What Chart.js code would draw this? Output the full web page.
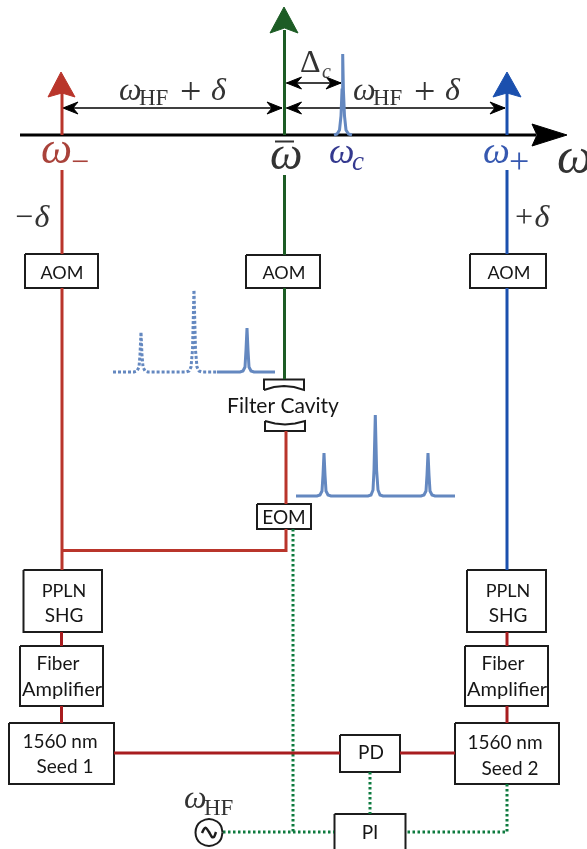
<!DOCTYPE html>
<html>
<head>
<meta charset="utf-8">
<style>
  html, body { margin: 0; padding: 0; background: #fff; }
  canvas { display: block; }
</style>
<script src="https://cdn.jsdelivr.net/npm/chart.js@4/dist/chart.umd.js"></script>
</head>
<body>
<canvas id="c" width="587" height="849"></canvas>
<script>
// beam lines, as x / y lists in picture units
const axisX = [20, 536], axisY = [135, 135];
const axisHeadX = [532, 567, 532, 537, 532], axisHeadY = [124, 135, 146, 135, 124];

const redUpX = [62, 62], redUpY = [135, 92];
const redHeadX = [48, 61, 75, 62, 48], redHeadY = [97, 72, 97, 93, 97];
const greenUpX = [284.5, 284.5], greenUpY = [135, 30];
const greenHeadX = [270, 284, 298, 284.5, 270], greenHeadY = [33, 7, 33, 28, 33];
const blueUpX = [507, 507], blueUpY = [135, 92];
const blueHeadX = [493, 507, 521, 507, 493], blueHeadY = [97, 72, 97, 93, 97];

const redDownX = [62, 62], redDownY = [170, 254];
const redMidX = [62, 62], redMidY = [288, 570];
const redBranchX = [62, 286, 286], redBranchY = [550.5, 550.5, 529];
const redCavX = [286, 286], redCavY = [431, 504];
const greenDownX = [284.5, 284.5], greenDownY = [175, 255];
const greenMidX = [284.5, 284.5], greenMidY = [288, 379];
const blueDownX = [507, 507], blueDownY = [170, 254];
const blueMidX = [507, 507], blueMidY = [288, 570];

const fibreSegsX = [[61.5, 61.5], [61.5, 61.5], [507, 507], [507, 507], [114, 340], [400, 455]];
const fibreSegsY = [[632, 646], [706, 723], [632, 646], [706, 723], [753, 753], [753, 753]];

const lockSegsX = [[293, 293], [370, 370], [507, 507, 405], [223, 334]];
const lockSegsY = [[529, 832], [772, 814], [784, 832, 832], [832, 832]];

// double arrows
const spanY = [108, 108, 83];
const spanStart = [63, 286.5, 286.5];
const spanEnd = [282, 505, 341];

// spectra
const cavPeakX = [334, 337, 339.5, 341, 342, 342.7, 343.4, 344.5, 346, 348.5, 352];
const cavPeakY = [135, 134, 130, 116, 90, 54, 90, 116, 130, 134, 135];

const dotSpecAX = [113, 134, 137, 139, 140, 141, 142, 143, 145, 148, 186, 189, 191, 192.5, 194, 195.5, 197, 199, 202, 217];
const dotSpecAY = [372, 372, 371, 367, 355, 332, 355, 367, 371, 372, 372, 371, 367, 350, 290, 350, 367, 371, 372, 372];
const solidSpecAX = [217, 240, 243, 245, 246, 247, 248, 249, 251, 254, 275];
const solidSpecAY = [372, 372, 371, 367, 350, 328, 350, 367, 371, 372, 372];
const specBX = [296, 317, 320, 322, 323, 324, 325, 326, 328, 331, 368, 371, 373, 374, 375.3, 376.6, 378, 380, 383, 421, 424, 426, 427, 428, 429, 430, 432, 435, 455];
const specBY = [496, 496, 495, 491, 475, 453, 475, 491, 495, 496, 496, 495, 490, 470, 415, 470, 490, 495, 496, 496, 495, 491, 475, 453, 475, 491, 495, 496, 496];

// filter cavity mirrors
const mirrorTopX = [264, 264, 304, 304, 294, 284, 274, 264];
const mirrorTopY = [390, 379.5, 379.5, 390, 387, 386, 387, 390];
const mirrorBotX = [265, 265, 305, 305, 295, 285, 275, 265];
const mirrorBotY = [421, 431, 431, 421, 423.5, 424.5, 423.5, 421];

// oscillator symbol
const waveX = [202, 204, 206, 209, 212, 214, 216];
const waveY = [833, 829, 828, 832, 837, 837, 832];
const circleX = [222.5, 221, 217, 209, 201, 197, 195.5, 197, 201, 209, 217, 221, 222.5];
const circleY = [832.5, 826, 821.5, 819, 821.5, 826, 832.5, 839, 843.5, 846, 843.5, 839, 832.5];
const omegaBarX = [275, 294], omegaBarY = [141.5, 141.5];

// boxes
const boxLeft = [25, 246, 470, 257, 23.5, 467, 20, 465, 9, 455, 340, 334.5];
const boxRight = [98, 320, 546, 311, 102, 546, 103, 548, 114, 559, 400, 405.5];
const boxTop = [254, 255, 254, 504, 570, 570, 646, 646, 723, 723, 735, 814];
const boxBottom = [288, 288, 288, 529, 632, 632, 706, 706, 784, 784, 772, 860];

// texts
const labelTexts = ["AOM", "AOM", "AOM", "EOM", "Filter Cavity", "PPLN", "SHG", "PPLN", "SHG",
  "Fiber", "Amplifier", "Fiber", "Amplifier", "1560 nm", "Seed 1", "1560 nm", "Seed 2", "PD", "PI"];
const labelX = [62, 284, 509, 284, 283, 64, 64, 508, 508, 58, 62, 503, 507, 60, 65, 505, 510, 371, 370];
const labelY = [279, 279, 279, 524, 413, 597, 622, 597, 622, 670, 696, 670, 696, 748, 773, 749, 775, 759, 839];
const labelSizes = ["s", "s", "s", "m", "l", "s", "m", "s", "m", "m", "n", "m", "n", "m", "m", "m", "m", "m", "m"];

const mathTexts = ["ω", "HF", "+", "δ", "ω", "HF", "+", "δ", "Δ", "c", "ω", "−", "ω", "ω", "c", "ω", "+", "ω", "−δ", "+δ", "ω", "HF"];
const mathX = [119, 139, 180, 211, 353, 373, 414, 445, 300, 322, 41, 71, 270, 329, 352, 483, 509, 557, 13, 513, 184, 204];
const mathY = [100, 105, 104, 100, 100, 105, 104, 100, 72, 78, 163, 172, 169, 163, 170, 163, 173, 173, 227, 227, 808, 815];
const mathStyles = ["w", "sub", "op", "w", "w", "sub", "op", "w", "delta", "csub", "wRed", "subRed", "wBar", "wC", "csubC", "wBlue", "subBlue", "wAxis", "side", "side", "wSmall", "sub"];

const RED = "#b9352b", GREEN = "#1d5c25", BLUE = "#1b50ae", FIBRE = "#a81c1f", LOCK = "#0d7a3e", SPEC = "#6488c0", INK = "#1c1c1c";

const MATH = '"Liberation Serif", serif';
const styles = {
  w: ["italic 32px " + MATH, "#333"],
  sub: ["23px " + MATH, "#333"],
  op: ["38px " + MATH, "#333"],
  delta: ["32px " + MATH, "#333"],
  csub: ["italic 20px " + MATH, "#444"],
  wRed: ["italic 44px " + MATH, "#a9423a"],
  subRed: ["32px " + MATH, "#a9423a"],
  wBar: ["italic 46px " + MATH, "#333"],
  wC: ["italic 36px " + MATH, "#34398f"],
  csubC: ["italic 27px " + MATH, "#34398f"],
  wBlue: ["italic 38px " + MATH, "#3658b0"],
  subBlue: ["36px " + MATH, "#3658b0"],
  wAxis: ["italic 50px " + MATH, "#333"],
  side: ["italic 32px " + MATH, "#333"],
  wSmall: ["italic 32px " + MATH, "#333"],
};
const labelFonts = { s: "18px", m: "19px", n: "20px", l: "21px" };

function path(xs, ys, color, width, extra) {
  return Object.assign({
    data: xs.map((x, i) => ({ x, y: ys[i] })),
    showLine: true,
    borderColor: color,
    borderWidth: width,
    pointRadius: 0,
    tension: 0,
    fill: false,
    borderCapStyle: "butt",
  }, extra || {});
}

function head(xs, ys, color) {
  return path(xs, ys, color, 1, { fill: "shape", backgroundColor: color });
}

const datasets = [
  path(cavPeakX, cavPeakY, SPEC, 3),
  path(redUpX, redUpY, RED, 3), head(redHeadX, redHeadY, RED),
  path(greenUpX, greenUpY, GREEN, 3), head(greenHeadX, greenHeadY, GREEN),
  path(blueUpX, blueUpY, BLUE, 3), head(blueHeadX, blueHeadY, BLUE),
  path(axisX, axisY, "#000", 3), head(axisHeadX, axisHeadY, "#000"),
  path(redDownX, redDownY, RED, 3), path(redMidX, redMidY, RED, 3),
  path(redBranchX, redBranchY, RED, 3), path(redCavX, redCavY, RED, 3),
  path(greenDownX, greenDownY, GREEN, 3), path(greenMidX, greenMidY, GREEN, 3),
  path(blueDownX, blueDownY, BLUE, 3), path(blueMidX, blueMidY, BLUE, 3),
  path(omegaBarX, omegaBarY, "#333", 2),
  path(dotSpecAX, dotSpecAY, SPEC, 3, { borderDash: [3, 2] }),
  path(solidSpecAX, solidSpecAY, SPEC, 3),
  path(specBX, specBY, SPEC, 3),
  path(mirrorTopX, mirrorTopY, INK, 2),
  path(mirrorBotX, mirrorBotY, INK, 2),
  path(waveX, waveY, INK, 2.5, { tension: 0.3 }),
  path(circleX, circleY, INK, 2, { tension: 0.3 }),
];

fibreSegsX.forEach((xs, i) => datasets.push(path(xs, fibreSegsY[i], FIBRE, 3)));
lockSegsX.forEach((xs, i) => datasets.push(path(xs, lockSegsY[i], LOCK, 3, { borderDash: [2.5, 2.5] })));

spanY.forEach((y, i) => {
  const a = spanStart[i], b = spanEnd[i];
  datasets.push(path([a, b], [y, y], "#000", 1.5));
  datasets.push(head([a + 15, a, a + 15, a + 10, a + 15], [y - 6, y, y + 6, y, y - 6], "#000"));
  datasets.push(head([b - 15, b, b - 15, b - 10, b - 15], [y - 6, y, y + 6, y, y - 6], "#000"));
});

boxLeft.forEach((l, i) => {
  const r = boxRight[i], t = boxTop[i], b = boxBottom[i];
  datasets.push(path([l, r, r, l, l], [t, t, b, b, t], INK, 2));
});

const textPlugin = {
  id: "texts",
  afterDatasetsDraw(chart) {
    const { ctx, scales } = chart;
    ctx.save();
    ctx.textBaseline = "alphabetic";
    ctx.textAlign = "center";
    ctx.fillStyle = "#161616";
    labelTexts.forEach((t, i) => {
      ctx.font = labelFonts[labelSizes[i]] + " Lato, sans-serif";
      ctx.fillText(t, scales.x.getPixelForValue(labelX[i]), scales.y.getPixelForValue(labelY[i]));
    });
    ctx.textAlign = "left";
    mathTexts.forEach((t, i) => {
      const s = styles[mathStyles[i]];
      ctx.font = s[0];
      ctx.fillStyle = s[1];
      ctx.fillText(t, scales.x.getPixelForValue(mathX[i]), scales.y.getPixelForValue(mathY[i]));
    });
    ctx.restore();
  },
};

new Chart(document.getElementById("c"), {
  type: "scatter",
  data: { datasets },
  options: {
    responsive: false,
    animation: false,
    layout: { padding: 0 },
    plugins: { legend: { display: false }, tooltip: { enabled: false }, title: { display: false } },
    scales: {
      x: { type: "linear", min: 0, max: 587, display: false },
      y: { type: "linear", min: 0, max: 849, reverse: true, display: false },
    },
  },
  plugins: [textPlugin],
});
</script>
</body>
</html>
